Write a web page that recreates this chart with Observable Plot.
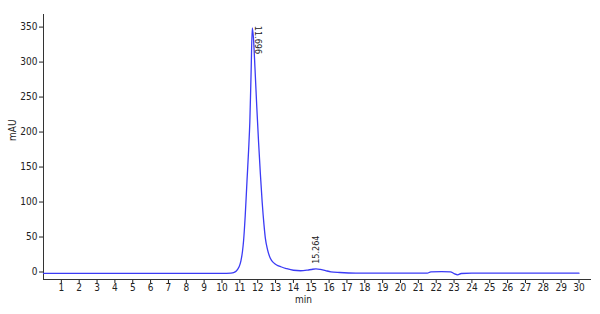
<!DOCTYPE html>
<html>
<head>
<meta charset="utf-8">
<script src="https://cdn.jsdelivr.net/npm/d3@7"></script>
<script src="https://cdn.jsdelivr.net/npm/@observablehq/plot@0.6"></script>
<style>
  html, body { margin: 0; padding: 0; background: #fff; }
  #chart { width: 600px; height: 314px; }
</style>
</head>
<body>
<div id="chart"></div>
<script>
// Chromatogram trace (retention time in min, absorbance in mAU)
const times = [0, 5, 10, 10.5, 10.65, 10.8, 10.95, 11.06, 11.15, 11.21, 11.3, 11.4, 11.49, 11.56, 11.63, 11.696,
  11.76, 11.85, 11.95, 12.05, 12.15, 12.25, 12.35, 12.43, 12.55, 12.7, 12.9, 13.1, 13.3, 13.6, 14.0, 14.4, 14.8,
  15.0, 15.264, 15.5, 15.8, 16.1, 16.6, 17.5, 21.5, 21.7, 22.3, 22.8, 23.0, 23.2, 23.4, 24.0, 30.0];
const values = [-2, -2, -2, -1.5, -0.8, 1.5, 7, 16, 30, 45, 80, 130, 174, 215, 285, 349,
  335, 290, 235, 185, 140, 100, 68, 48, 32, 20, 13, 9.5, 7.5, 5, 2.5, 1.8, 2.8,
  3.6, 4.5, 3.8, 2, 0.3, -0.7, -1.6, -1.7, 0.3, 0.6, 0.3, -2.4, -4, -2.1, -1.6, -1.6];

// Peak annotations
const peakTimes = [11.696, 15.264];
const peakValues = [349, 4.5];
const peakLabels = ["11.696", "15.264"];

// Axes
const xTicks = [1,2,3,4,5,6,7,8,9,10,11,12,13,14,15,16,17,18,19,20,21,22,23,24,25,26,27,28,29,30];
const yTicks = [0, 50, 100, 150, 200, 250, 300, 350];
const xDomain = [0, 30.7];
const yDomain = [-10.7, 368];
const xLabel = "min";
const yLabel = "mAU";

const trace = times.map((t, i) => ({t, v: values[i]}));
const peaks = peakTimes.map((t, i) => ({t, v: peakValues[i], label: peakLabels[i]}));

const font = "'DejaVu Sans Condensed', 'DejaVu Sans', sans-serif";

const chart = Plot.plot({
  width: 600,
  height: 314,
  marginTop: 14,
  marginRight: 9,
  marginBottom: 35,
  marginLeft: 43,
  style: {fontFamily: font, fontSize: "10px", color: "#222", background: "#fff", fontStretch: "condensed"},
  x: {domain: xDomain, ticks: xTicks, tickSize: 4, tickPadding: 0, label: null, tickFormat: d => String(d)},
  y: {domain: yDomain, ticks: yTicks, tickSize: 4, tickPadding: 2, label: null},
  marks: [
    Plot.ruleX([xDomain[0]], {stroke: "#333", strokeWidth: 1}),
    Plot.ruleY([yDomain[0]], {stroke: "#333", strokeWidth: 1}),
    Plot.line(trace, {x: "t", y: "v", stroke: "#3b3bf5", strokeWidth: 1.3, curve: "monotone-x"}),
    Plot.text(peaks.slice(0, 1), {x: "t", y: "v", text: "label", rotate: 90, textAnchor: "start", dx: 6, dy: -2, fontSize: 9, fill: "#222"}),
    Plot.text(peaks.slice(1), {x: "t", y: "v", text: "label", rotate: -90, textAnchor: "start", dx: 0, dy: -5, fontSize: 9, fill: "#222"}),
    Plot.text([xLabel], {text: d => d, frameAnchor: "bottom", dx: -14, dy: 23, fontSize: 10, fill: "#222"}),
    Plot.text([yLabel], {text: d => d, frameAnchor: "left", rotate: -90, dx: -31, dy: -6, fontSize: 10, fill: "#222"})
  ]
});
document.getElementById("chart").appendChild(chart);
</script>
</body>
</html>
